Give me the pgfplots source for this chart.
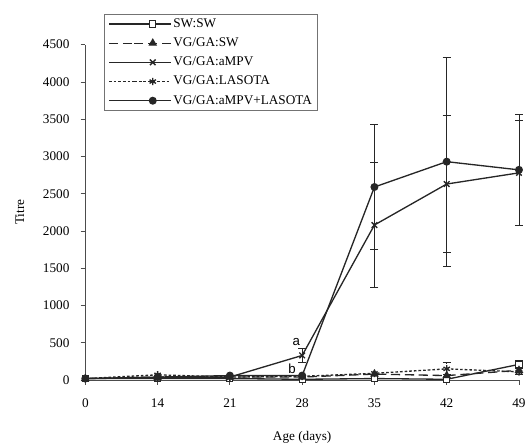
\documentclass[border=0pt]{standalone}
\usepackage{fontspec}
\setmainfont{Liberation Serif}
\newfontfamily\arial{Liberation Sans}
\usepackage{pgfplots}
\pgfplotsset{compat=1.18}

\begin{document}
\begin{tikzpicture}
\begin{axis}[
  name=ax,
  scale only axis, width=327.75pt, height=253.5pt,
  xmin=0, xmax=6, ymin=0, ymax=4500,
  clip=false,
  axis lines=left, axis line style={-, draw=black!70, line width=0.6pt},
  xtick={0,1,2,3,4,5,6}, xticklabels={0,14,21,28,35,42,49},
  ytick={0,500,...,4500},
  tick align=outside, major tick length=3.5pt,
  tick style={draw=black!70, line width=0.6pt},
  scaled y ticks=false,
  /pgf/number format/1000 sep={},
  /pgf/number format/assume math mode=true,
  tick label style={font=\fontsize{10}{12}\selectfont},
  xticklabel style={yshift=-7pt},
  yticklabel style={xshift=-5pt},
  label style={font=\fontsize{10}{12}\selectfont},
  xlabel={Age (days)}, ylabel={Titre},
  xlabel style={at={(axis description cs:0.5,-0.17)}, anchor=center},
  ylabel style={at={(axis description cs:-0.151,0.5)}, anchor=center},
  legend style={at={(0.0435,1.092)}, anchor=north west, draw=black!55,
    font=\fontsize{10}{12}\selectfont, inner xsep=3pt, inner ysep=2pt,
    row sep=3.5pt,
    nodes={inner sep=1pt, text height=7pt, text depth=2pt}},
  legend cell align=left,
  legend image code/.code={
    \path (-19pt,0pt) -- (0pt,0pt);
    \draw[mark repeat=2,mark phase=2] plot coordinates {(0pt,0pt) (14pt,0pt) (28pt,0pt)};
  },
  every axis plot/.append style={black!85, line width=1pt},
  error bars/y dir=both, error bars/y explicit,
  error bars/error bar style={black!85, line width=0.7pt},
  error bars/error mark options={black!85, rotate=90, mark size=3pt, line width=0.7pt},
]
% SW:SW
\addplot[mark=square*, mark size=2.3pt, mark options={solid, fill=white, line width=0.7pt}]
  coordinates {(0,20) (1,20) (2,20) (3,10) (4,20) (5,10) (6,210) +- (0,50)};
% VG/GA:SW
\addplot[dash pattern=on 7pt off 3.5pt, mark=triangle*, mark size=2.8pt, mark options={solid}]
  coordinates {(0,20) (1,40) (2,40) (3,40) (4,80) (5,60) (6,130) +- (0,60)};
% VG/GA:aMPV
\addplot[mark=x, mark size=3pt, mark options={solid}]
  coordinates {(0,20) (1,30) (2,40) (3,330) +- (0,90) (4,2080) +- (0,840)
               (5,2630) +- (0,920) (6,2780) +- (0,700)};
% VG/GA:LASOTA
\addplot[dash pattern=on 2pt off 1.5pt, mark=asterisk, mark size=2.8pt, mark options={solid}]
  coordinates {(0,20) (1,70) (2,40) (3,50) (4,90) (5,150) +- (0,80) (6,110)};
% VG/GA:aMPV+LASOTA
\addplot[mark=*, mark size=2.5pt, mark options={solid}]
  coordinates {(0,20) (1,40) (2,60) (3,60) (4,2590) +- (0,840)
               (5,2930) +- (0,1400) (6,2820) +- (0,740)};
\legend{SW:SW, VG/GA:SW, VG/GA:aMPV, VG/GA:LASOTA, VG/GA:aMPV+LASOTA}
\node[font=\arial\fontsize{10}{12}\selectfont, inner sep=0pt] at (axis cs:2.92,505) {a};
\node[font=\arial\fontsize{10}{12}\selectfont, inner sep=0pt] at (axis cs:2.86,150) {b};
\end{axis}
\path ([shift={(-64.5pt,-50.25pt)}]ax.south west) rectangle ++(397.5pt,337.5pt);
\end{tikzpicture}
\end{document}
